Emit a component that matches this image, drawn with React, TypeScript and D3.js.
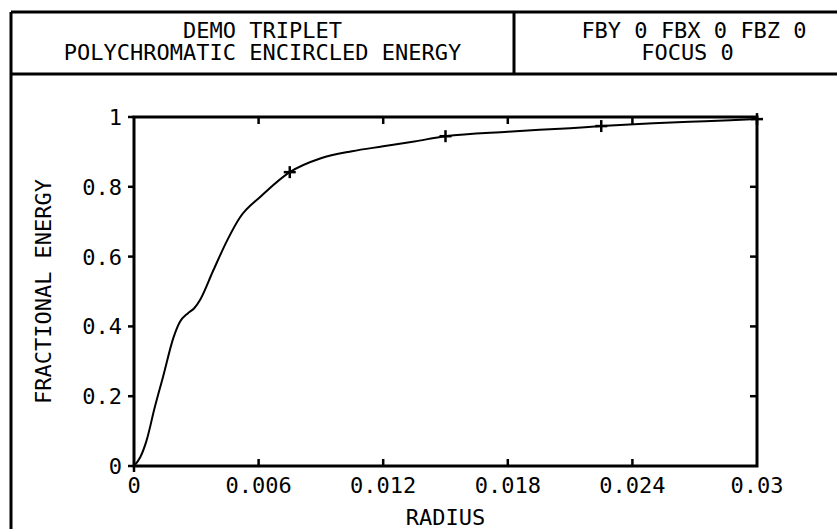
import React from "react";
import * as d3 from "d3";

const radius = [0, 0.0003, 0.0006, 0.001, 0.0014, 0.0019, 0.0022, 0.0026, 0.0029, 0.0032, 0.0038, 0.0045, 0.0051, 0.0061, 0.0075, 0.009, 0.0105, 0.012, 0.0135, 0.015, 0.018, 0.021, 0.0225, 0.025, 0.0275, 0.03];
const energy = [0, 0.025, 0.072, 0.168, 0.256, 0.368, 0.412, 0.438, 0.452, 0.478, 0.558, 0.648, 0.712, 0.772, 0.842, 0.882, 0.902, 0.916, 0.93, 0.945, 0.958, 0.968, 0.974, 0.982, 0.988, 0.994];

const markerRadius = [0.0075, 0.015, 0.0225, 0.03];
const markerEnergy = [0.842, 0.945, 0.974, 0.994];

const xTicks = [0, 0.006, 0.012, 0.018, 0.024, 0.03];
const xTickLabels = ["0", "0.006", "0.012", "0.018", "0.024", "0.03"];
const yTicks = [0, 0.2, 0.4, 0.6, 0.8, 1];
const yTickLabels = ["0", "0.2", "0.4", "0.6", "0.8", "1"];

const titleLines = ["DEMO TRIPLET", "POLYCHROMATIC ENCIRCLED ENERGY"];
const infoItems = ["FBY 0", "FBX 0", "FBZ 0"];
const focusLine = "FOCUS 0";
const xTitle = "RADIUS";
const yTitle = "FRACTIONAL ENERGY";

const W = 837;
const H = 529;
const L = 134, R = 757, T = 117, B = 466;
const FONT = "'DejaVu Sans Mono', monospace";

export default function App() {
  const x = d3.scaleLinear().domain([0, 0.03]).range([L, R]);
  const y = d3.scaleLinear().domain([0, 1]).range([B, T]);
  const pts: [number, number][] = radius.map((r, i) => [r, energy[i]]);
  const line = d3
    .line<[number, number]>()
    .x((d) => x(d[0]))
    .y((d) => y(d[1]))
    .curve(d3.curveMonotoneX);
  const tk = 7;
  const ts = { fontFamily: FONT, fontSize: 22, fill: "#000" } as const;
  const infoX = [614.5, 694, 773.5];
  return (
    <svg width={W} height={H} style={{ position: "absolute", left: 0, top: 0, background: "#fff" }}>
      <rect x={0} y={0} width={W} height={H} fill="#fff" />
      {/* header box */}
      <g stroke="#000" strokeWidth={3} fill="none">
        <line x1={11} y1={12} x2={W} y2={12} />
        <line x1={11} y1={74} x2={W} y2={74} />
        <line x1={11} y1={12} x2={11} y2={H} />
        <line x1={514} y1={12} x2={514} y2={74} />
      </g>
      <text {...ts} x={262.5} y={38} textAnchor="middle">{titleLines[0]}</text>
      <text {...ts} x={262.5} y={60} textAnchor="middle">{titleLines[1]}</text>
      {infoItems.map((s, i) => (
        <text key={"i" + i} {...ts} x={infoX[i]} y={38} textAnchor="middle">{s}</text>
      ))}
      <text {...ts} x={687.5} y={60} textAnchor="middle">{focusLine}</text>

      {/* plot frame */}
      <rect x={L} y={T} width={R - L} height={B - T} fill="none" stroke="#000" strokeWidth={3} />
      <g stroke="#000" strokeWidth={2.5}>
        {yTicks.map((t, i) => (
          <g key={"y" + i}>
            <line x1={L - 6} y1={y(t)} x2={L} y2={y(t)} />
            {t > 0 && t < 1 && <line x1={R - tk} y1={y(t)} x2={R} y2={y(t)} />}
          </g>
        ))}
        {xTicks.map((t, i) => (
          <g key={"x" + i}>
            {t > 0 && t < 0.03 && <line x1={x(t)} y1={B - tk} x2={x(t)} y2={B} />}
            {t > 0 && t < 0.03 && <line x1={x(t)} y1={T} x2={x(t)} y2={T + tk} />}
          </g>
        ))}
        <line x1={L} y1={B} x2={L} y2={B + 6} />
      </g>
      {yTicks.map((t, i) => (
        <text key={"yl" + i} {...ts} x={122} y={y(t) + 8} textAnchor="end">{yTickLabels[i]}</text>
      ))}
      {xTicks.map((t, i) => (
        <text key={"xl" + i} {...ts} x={x(t)} y={493} textAnchor="middle">{xTickLabels[i]}</text>
      ))}
      <text {...ts} x={(L + R) / 2} y={525} textAnchor="middle">{xTitle}</text>
      <text {...ts} transform={`translate(51, ${(T + B) / 2}) rotate(-90)`} textAnchor="middle">{yTitle}</text>

      {/* curve */}
      <path d={line(pts) || ""} fill="none" stroke="#000" strokeWidth={2} />
      <g stroke="#000" strokeWidth={2.5}>
        {markerRadius.map((r, i) => (
          <g key={"m" + i}>
            <line x1={x(r) - 6} y1={y(markerEnergy[i])} x2={x(r) + 6} y2={y(markerEnergy[i])} />
            <line x1={x(r)} y1={y(markerEnergy[i]) - 6} x2={x(r)} y2={y(markerEnergy[i]) + 6} />
          </g>
        ))}
      </g>
    </svg>
  );
}
